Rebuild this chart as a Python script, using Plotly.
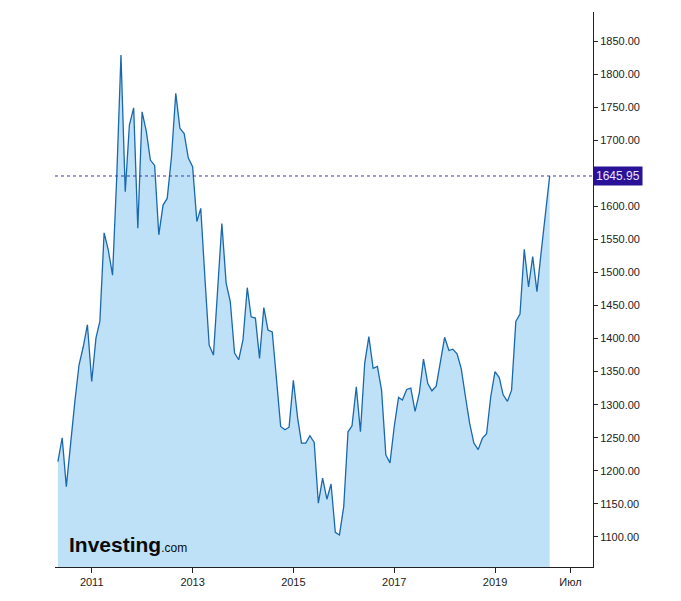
import pandas as pd
import plotly.graph_objects as go

start_month = "2010-05-01"
prices = [
    1214, 1250, 1176, 1245, 1305, 1360, 1388, 1421, 1335, 1401,
    1426, 1560, 1534, 1496, 1643, 1829, 1622, 1723, 1749, 1567,
    1743, 1713, 1670, 1662, 1557, 1602, 1612, 1675, 1771, 1718,
    1710, 1673, 1660, 1577, 1597, 1489, 1390, 1375, 1470, 1574,
    1484, 1456, 1378, 1368, 1398, 1477, 1433, 1431, 1370, 1447,
    1413, 1410, 1338, 1267, 1262, 1266, 1337, 1280, 1242, 1242,
    1253, 1243, 1151, 1189, 1157, 1180, 1107, 1103, 1146, 1259,
    1268, 1327, 1259, 1363, 1403, 1355, 1358, 1322, 1224, 1212,
    1267, 1311, 1307, 1323, 1325, 1290, 1317, 1369, 1332, 1321,
    1328, 1367, 1402, 1382, 1384, 1377, 1355, 1312, 1272, 1242,
    1232, 1249, 1256, 1312, 1350, 1341, 1315, 1305, 1322, 1426,
    1437, 1535, 1478, 1524, 1471, 1530, 1585, 1645.95,
]
dates = pd.date_range(start_month, periods=len(prices), freq="MS")
last_price = 1645.95

x_tick_vals = ["2011-01-01", "2013-01-01", "2015-01-01", "2017-01-01", "2019-01-01", "2020-07-01"]
x_tick_text = ["2011", "2013", "2015", "2017", "2019", "Июл"]
# 1650.00 is hidden behind the last-price label in the reference
y_tick_vals = [1100, 1150, 1200, 1250, 1300, 1350, 1400, 1450, 1500, 1550, 1600, 1700, 1750, 1800, 1850]
y_tick_text = [f"{v:.2f}" for v in y_tick_vals]

FONT = "Liberation Sans, Arial, Helvetica, sans-serif"

fig = go.Figure()
fig.add_trace(go.Scatter(
    x=dates, y=prices, mode="lines",
    line=dict(color="#1a68ad", width=1.3),
    fill="tozeroy", fillcolor="#bee1f8",
    hoverinfo="x+y",
))

fig.add_shape(type="line", xref="paper", x0=0, x1=1, yref="y",
              y0=last_price, y1=last_price,
              line=dict(color="#3b3bb5", width=1, dash="dot"))

fig.add_annotation(xref="paper", x=1.0, yref="y", y=last_price,
                   xanchor="left", yanchor="middle", showarrow=False,
                   text=f"{last_price:.2f}", bgcolor="#2a1298",
                   font=dict(family=FONT, size=12, color="#e6e4ff"),
                   borderpad=2)

fig.add_annotation(xref="paper", x=0.022, yref="paper", y=0.04,
                   xanchor="left", yanchor="middle", showarrow=False,
                   text="<b>Investing</b><span style='font-size:12px'>.com</span>",
                   font=dict(family="Liberation Sans Narrow, Arial Narrow, Liberation Sans, Arial, sans-serif",
                             size=21, color="#0a0a0a"))

fig.update_layout(
    width=681, height=601,
    margin=dict(l=55, r=88, t=12, b=34),
    paper_bgcolor="white", plot_bgcolor="white",
    showlegend=False,
    font=dict(family=FONT, size=11, color="#222222"),
    xaxis=dict(
        range=["2010-04-10", "2020-12-11"],
        tickmode="array", tickvals=x_tick_vals, ticktext=x_tick_text,
        showgrid=False, zeroline=False,
        showline=True, linecolor="#222222", linewidth=1,
        ticks="outside", ticklen=5, tickcolor="#222222",
        tickfont=dict(size=11, color="#222222"),
    ),
    yaxis=dict(
        side="right",
        range=[1054.5, 1894],
        tickmode="array", tickvals=y_tick_vals, ticktext=y_tick_text,
        showgrid=False, zeroline=False,
        showline=True, linecolor="#222222", linewidth=1,
        ticks="outside", ticklen=4, tickcolor="#222222",
        tickfont=dict(size=11, color="#222222"),
    ),
)

fig.write_html("out.html")
